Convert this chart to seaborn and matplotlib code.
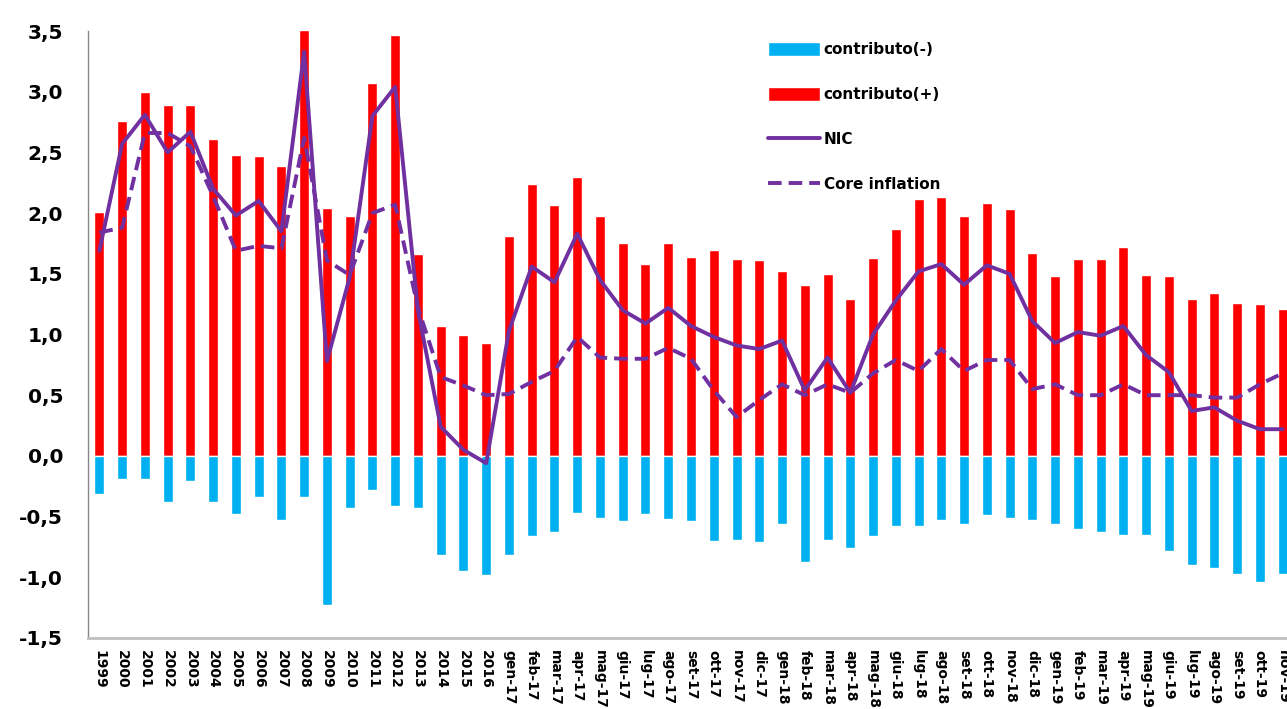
import matplotlib
matplotlib.use('Agg')
import matplotlib.pyplot as plt
import matplotlib.ticker as mticker
from matplotlib.patches import Patch
from matplotlib.lines import Line2D
import numpy as np
import pandas as pd
import seaborn as sns

# periodi: anni 1999-2016, poi mesi gen-17 ... nov-19
anni = [str(a) for a in range(1999, 2017)]
mesi = ['gen', 'feb', 'mar', 'apr', 'mag', 'giu', 'lug', 'ago', 'set', 'ott', 'nov', 'dic']
periodi = anni + [f'{m}-{a}' for a in ('17', '18', '19') for m in mesi][:35]

contributo_pos = [
    2.01, 2.76, 3.00, 2.89, 2.89, 2.61, 2.48, 2.47, 2.39, 3.51, 2.04, 1.98, 3.07, 3.47, 1.66,
    1.07, 1.00, 0.93,
    1.81, 2.24, 2.07, 2.30, 1.98, 1.75, 1.58, 1.75, 1.64, 1.70, 1.62, 1.61,
    1.52, 1.41, 1.50, 1.29, 1.63, 1.87, 2.12, 2.13, 1.98, 2.08, 2.03, 1.67,
    1.48, 1.62, 1.62, 1.72, 1.49, 1.48, 1.29, 1.34, 1.26, 1.25, 1.21,
]
contributo_neg = [
    -0.31, -0.19, -0.19, -0.38, -0.21, -0.38, -0.48, -0.34, -0.53, -0.34, -1.23, -0.43, -0.28, -0.41, -0.43,
    -0.82, -0.95, -0.98,
    -0.82, -0.66, -0.63, -0.47, -0.51, -0.54, -0.48, -0.52, -0.54, -0.70, -0.69, -0.71,
    -0.56, -0.87, -0.69, -0.76, -0.66, -0.58, -0.58, -0.53, -0.56, -0.49, -0.51, -0.53,
    -0.56, -0.60, -0.63, -0.65, -0.65, -0.78, -0.90, -0.92, -0.97, -1.04, -0.97,
]
nic = [
    1.69, 2.57, 2.81, 2.50, 2.67, 2.20, 1.98, 2.10, 1.85, 3.33, 0.78, 1.47, 2.80, 3.04, 1.20,
    0.24, 0.05, -0.06,
    1.03, 1.56, 1.43, 1.83, 1.45, 1.20, 1.09, 1.22, 1.07, 0.98, 0.91, 0.88,
    0.95, 0.54, 0.81, 0.52, 1.00, 1.28, 1.52, 1.58, 1.41, 1.57, 1.50, 1.11,
    0.93, 1.02, 0.99, 1.07, 0.83, 0.69, 0.37, 0.40, 0.29, 0.22, 0.22,
]
core = [
    1.84, 1.88, 2.66, 2.66, 2.55, 2.14, 1.69, 1.73, 1.71, 2.62, 1.61, 1.49, 2.00, 2.07, 1.22,
    0.65, 0.58, 0.50,
    0.51, 0.61, 0.70, 0.98, 0.81, 0.80, 0.80, 0.89, 0.80, 0.54, 0.32, 0.46,
    0.59, 0.50, 0.59, 0.52, 0.68, 0.79, 0.70, 0.88, 0.70, 0.79, 0.79, 0.55,
    0.59, 0.50, 0.50, 0.59, 0.50, 0.50, 0.50, 0.48, 0.48, 0.59, 0.68,
]

df = pd.DataFrame({'periodo': periodi, 'pos': contributo_pos, 'neg': contributo_neg,
                   'nic': nic, 'core': core})
df['idx'] = np.arange(len(df))

rosso = '#FF0000'
azzurro = '#00B0F0'
viola = '#7030A0'

sns.set_style('white')
plt.rcParams['text.color'] = 'black'
fig = plt.figure(figsize=(12.87, 7.09), dpi=100)
ax = fig.add_axes([88 / 1287, 71 / 709, 1206 / 1287, 607 / 709])

sns.barplot(data=df, x='periodo', y='pos', color=rosso, saturation=1, width=0.44, ax=ax)
sns.barplot(data=df, x='periodo', y='neg', color=azzurro, saturation=1, width=0.44, ax=ax)
sns.lineplot(data=df, x='idx', y='nic', color=viola, lw=2.8, ax=ax)
sns.lineplot(data=df, x='idx', y='core', color=viola, lw=2.8, ax=ax)
ax.lines[-1].set_dashes((3.5, 1.8))

n = len(df)
ax.set_xlim(-0.5, n - 0.5)
ax.set_ylim(-1.5, 3.5)
ax.set_xlabel('')
ax.set_ylabel('')

ax.yaxis.set_major_locator(mticker.MultipleLocator(0.5))
ax.yaxis.set_major_formatter(mticker.FuncFormatter(lambda v, p: f'{v:.1f}'.replace('.', ',')))
ax.set_xticks(np.arange(n))
ax.set_xticklabels(periodi, rotation=270, fontsize=10, fontweight='bold')
ax.set_xticks(np.arange(n + 1) - 0.5, minor=True)
ax.tick_params(axis='x', which='major', length=0, pad=9, labelcolor='black')
ax.tick_params(axis='x', which='minor', length=6, width=1, color='#BFBFBF')
ax.tick_params(axis='y', length=7, width=1, color='#868686', pad=11, labelsize=14.5,
               labelcolor='black')
for t in ax.get_yticklabels():
    t.set_fontweight('bold')

for s in ['top', 'right']:
    ax.spines[s].set_visible(False)
ax.spines['left'].set_color('#868686')
ax.spines['left'].set_linewidth(1)
ax.spines['bottom'].set_color('#BFBFBF')
ax.spines['bottom'].set_linewidth(2)

handles = [
    Patch(facecolor=azzurro, label='contributo(-)'),
    Patch(facecolor=rosso, label='contributo(+)'),
    Line2D([], [], color=viola, lw=2.8, label='NIC'),
    Line2D([], [], color=viola, lw=2.8, dashes=(3.5, 1.8), label='Core inflation'),
]
leg = ax.legend(handles=handles, loc='upper left', bbox_to_anchor=(768 / 1287, 1 - 42 / 709),
                bbox_transform=fig.transFigure, frameon=False, borderpad=0, borderaxespad=0,
                handlelength=3.4, handleheight=1.0, handletextpad=0.25, labelspacing=1.95,
                prop={'size': 11, 'weight': 'bold'})
for t in leg.get_texts():
    t.set_color('black')

plt.savefig('out.png', dpi=100)
plt.close()
